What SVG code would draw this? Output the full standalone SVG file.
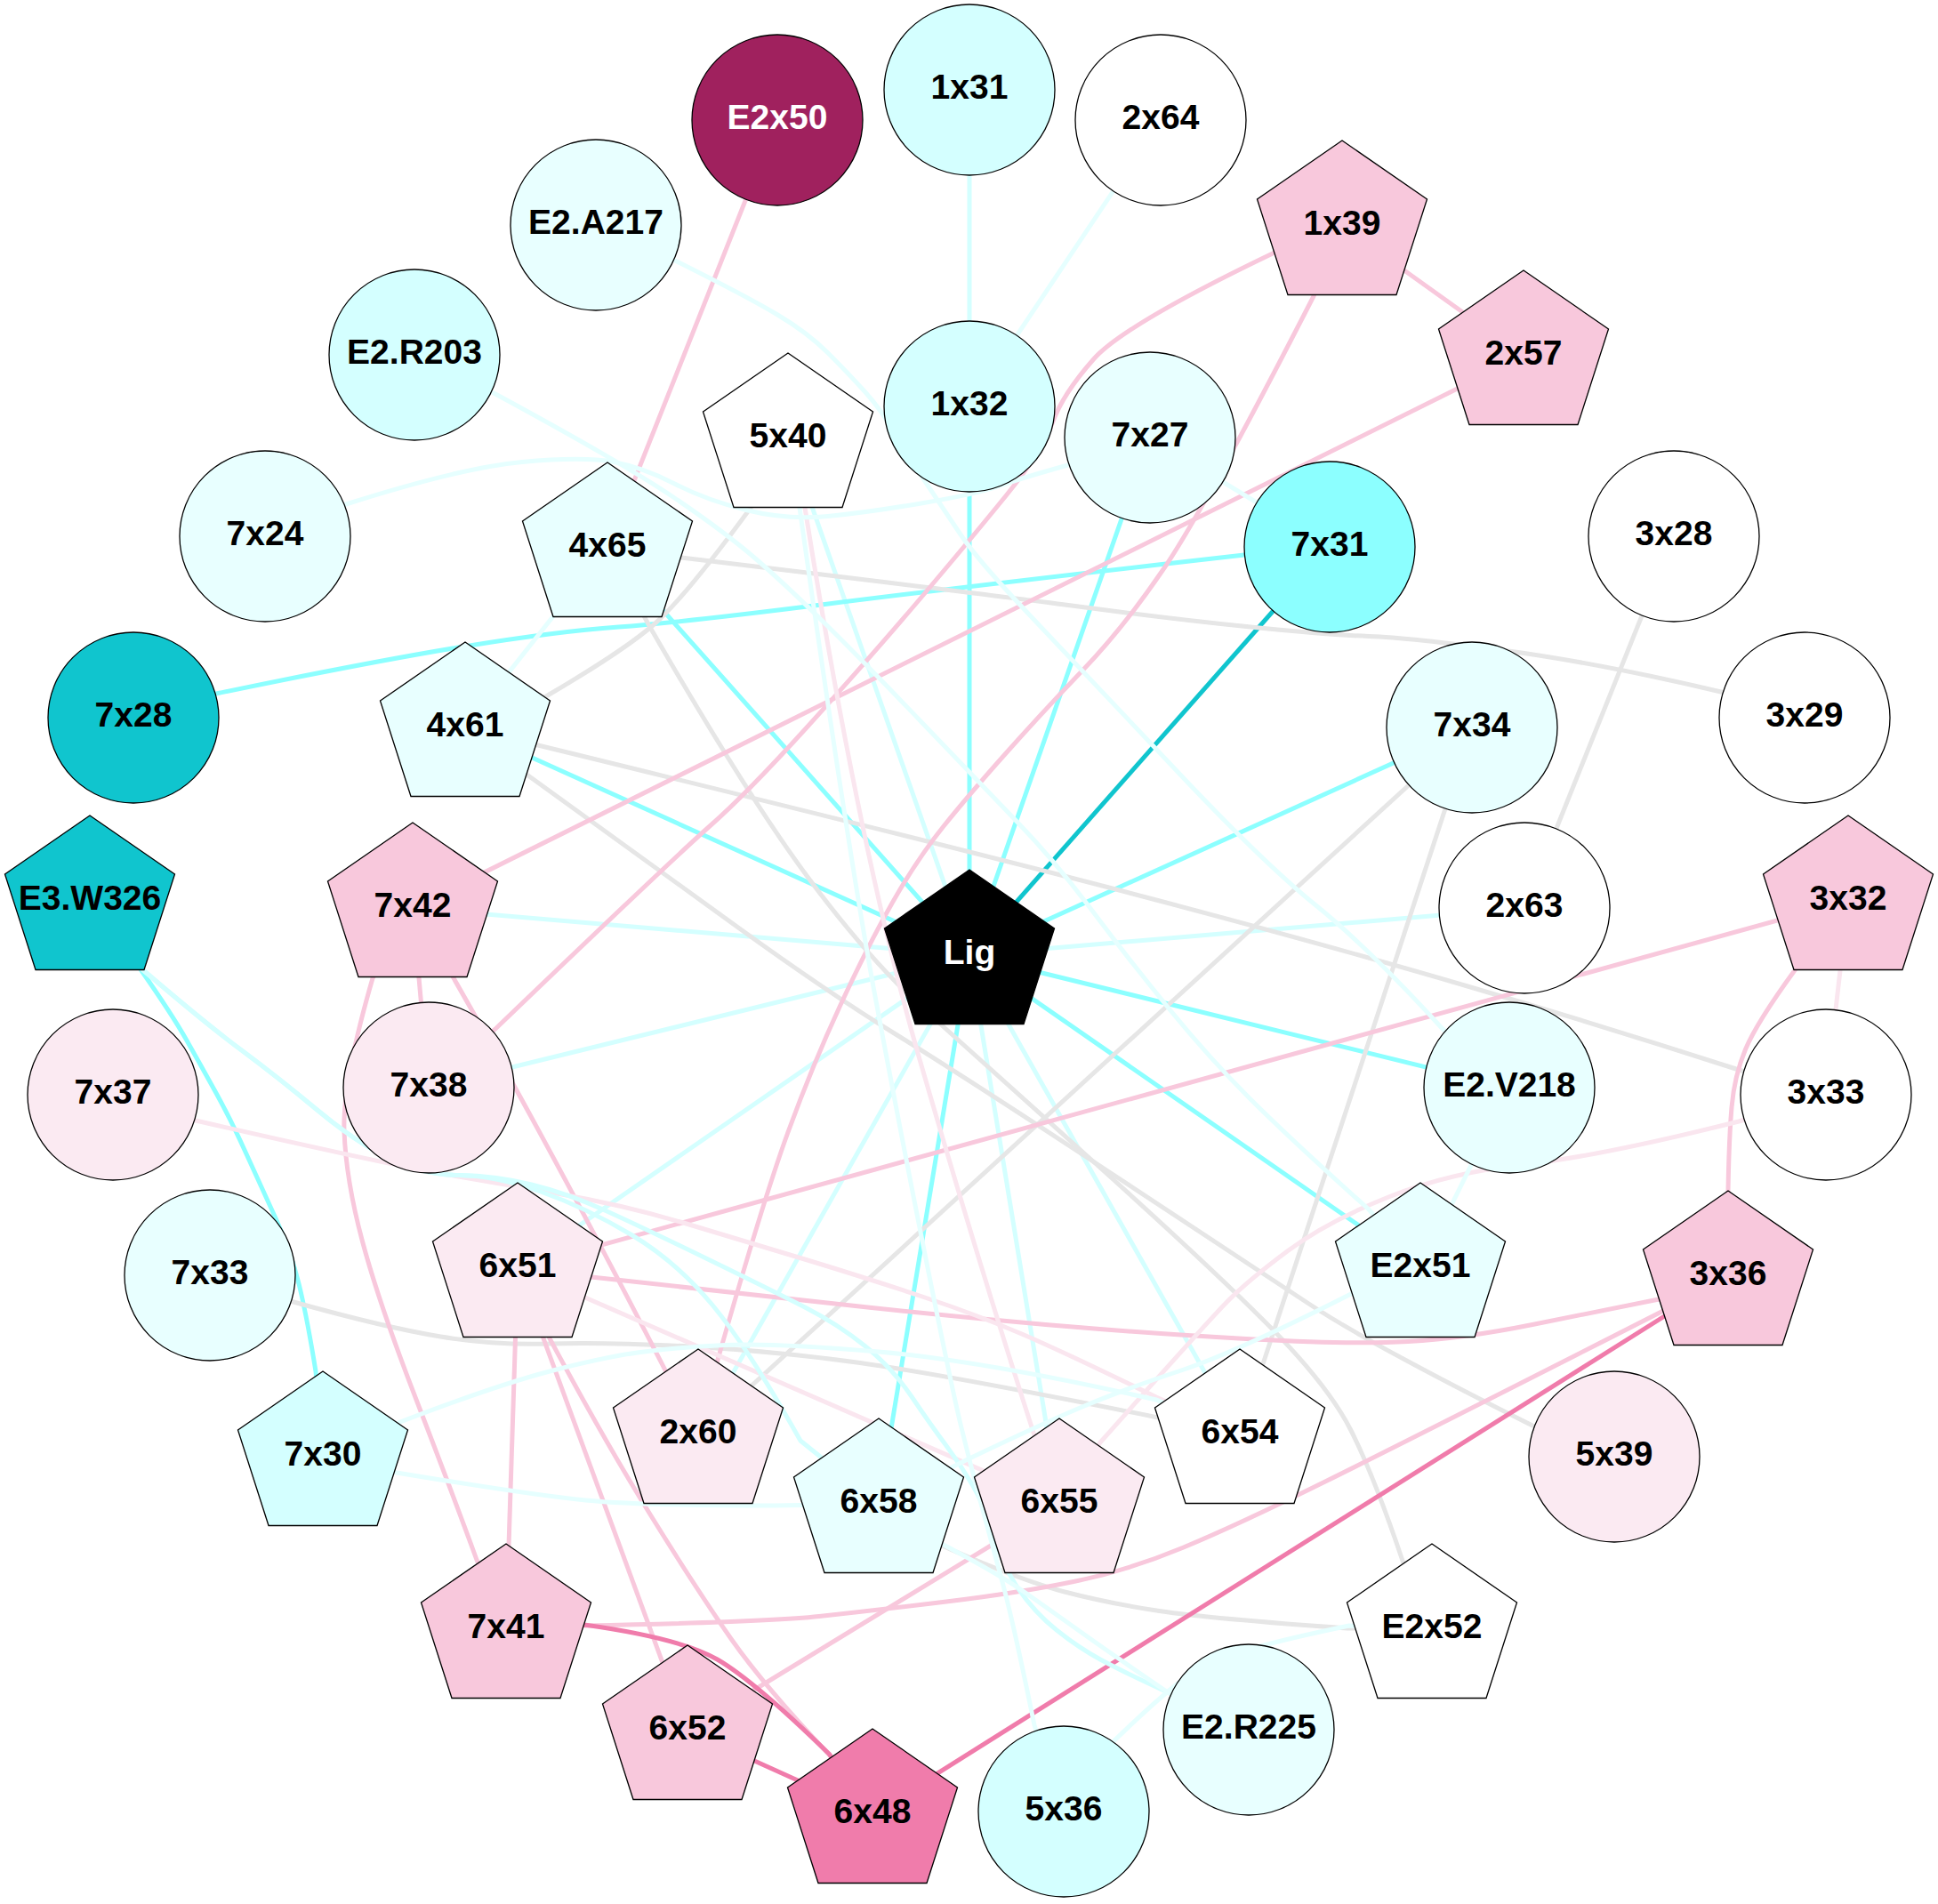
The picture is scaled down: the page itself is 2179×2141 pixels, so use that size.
<svg xmlns="http://www.w3.org/2000/svg" width="2179" height="2141" viewBox="0 0 2179 2141">
<style>
.e{fill:none;stroke-width:5;stroke-linecap:butt}
.cy{stroke:#8CFFFF}.dc{stroke:#10C5CE}.lc{stroke:#D4FFFF}.vc{stroke:#E6FFFF}
.pk{stroke:#F8C8DC}.lp{stroke:#FAE6EF}.hp{stroke:#F07CAB}.gr{stroke:#E6E6E6}
.node circle,.node use{stroke:#000;stroke-width:1.3}
.w{fill:#FFFFFF}.c1{fill:#E8FFFF}.c2{fill:#D4FFFF}.c3{fill:#8CFFFF}.c4{fill:#10C5CE}
.p1{fill:#FBEAF2}.p2{fill:#F8C8DC}.p3{fill:#F07CAB}.m{fill:#A0215E}.k{fill:#000000}
text{font-family:"Liberation Sans",Arial,sans-serif;font-weight:bold;font-size:39px;text-anchor:middle;fill:#000}
text.wt{fill:#FFFFFF}
</style>
<defs>
<polygon id="pent" points="0,-96 95.5,-30 61,77.5 -61,77.5 -95.5,-30"/>
</defs>
<rect x="0" y="0" width="2179" height="2141" fill="#FFFFFF"/>
<g id="edges">
<line class="e cy" x1="1090" y1="1074" x2="1090" y2="457"/>
<line class="e cy" x1="1090" y1="1074" x2="1293" y2="492"/>
<line class="e cy" x1="1090" y1="1074" x2="683" y2="616"/>
<line class="e cy" x1="1090" y1="1074" x2="523" y2="818"/>
<line class="e cy" x1="1090" y1="1074" x2="1655" y2="818"/>
<line class="e cy" x1="1090" y1="1074" x2="1697" y2="1223"/>
<line class="e cy" x1="1090" y1="1074" x2="1597" y2="1426"/>
<line class="e cy" x1="1090" y1="1074" x2="988" y2="1691"/>
<line class="e dc" x1="1090" y1="1074" x2="1495" y2="615"/>
<line class="e lc" x1="1090" y1="1074" x2="1714" y2="1021"/>
<line class="e lc" x1="1090" y1="1074" x2="464" y2="1021"/>
<line class="e lc" x1="1090" y1="1074" x2="482" y2="1223"/>
<line class="e lc" x1="1090" y1="1074" x2="582" y2="1426"/>
<line class="e lc" x1="1090" y1="1074" x2="785" y2="1613"/>
<line class="e lc" x1="1090" y1="1074" x2="1394" y2="1613"/>
<line class="e lc" x1="1090" y1="1074" x2="1191" y2="1691"/>
<line class="e lc" x1="1090" y1="1074" x2="886" y2="493"/>
<line class="e lc" x1="1090" y1="101" x2="1090" y2="457"/>
<path class="e cy" d="M150,807 L243,780 Q417,744 521.5,727 Q626,710 695.5,705 Q765,700 927.5,679.5 Q1090,659 1399,624 L1495,615"/>
<path class="e cy" d="M101,1013 L158,1090 Q193,1140 210,1170 Q227,1200 243.5,1230 Q260,1260 276.5,1296.5 Q293,1333 310,1370 Q327,1407 336,1443.5 Q345,1480 355,1542 L363,1638"/>
<line class="e gr" x1="1882" y1="603" x2="1714" y2="1021"/>
<line class="e gr" x1="1655" y1="818" x2="785" y2="1613"/>
<line class="e gr" x1="1655" y1="818" x2="1394" y2="1613"/>
<path class="e gr" d="M683,616 L766,627 Q1100,667 1205,681 Q1310,695 1401.5,704.5 Q1493,714 1539,715.5 Q1585,717 1692.5,731.5 Q1800,746 1935,778 L2029,807"/>
<path class="e gr" d="M523,818 L605,838 Q1100,959 1300,1012 Q1500,1065 1650,1109 Q1800,1153 1955,1203 L2053,1231"/>
<path class="e gr" d="M523,818 L614,783 Q701,732 735.5,702 Q770,672 844,571 L886,493"/>
<path class="e gr" d="M523,818 L591,870 Q729,970 830,1043 Q931,1116 1005.5,1162 Q1080,1208 1240.5,1313.5 Q1401,1419 1470,1465 Q1539,1511 1723,1603 L1815,1638"/>
<path class="e gr" d="M683,616 L729,702 Q839,893 908,986 Q977,1079 1038.5,1134.5 Q1100,1190 1227.5,1304.5 Q1355,1419 1424,1488 Q1493,1557 1519,1608.5 Q1545,1660 1577,1755 L1610,1832"/>
<path class="e gr" d="M236,1434 L330,1464 Q434,1493 495.5,1503 Q557,1513 618,1511 Q679,1509 774.5,1514 Q870,1519 967,1532.5 Q1064,1546 1297,1593 L1394,1613"/>
<path class="e gr" d="M988,1691 L1057,1737 Q1147,1777 1197,1790 Q1247,1803 1303.5,1811.5 Q1360,1820 1515,1831 L1610,1832"/>
<line class="e pk" x1="874" y1="135" x2="683" y2="616"/>
<line class="e pk" x1="1509" y1="254" x2="1713" y2="400"/>
<line class="e pk" x1="1713" y1="400" x2="464" y2="1021"/>
<line class="e pk" x1="464" y1="1021" x2="482" y2="1223"/>
<line class="e pk" x1="582" y1="1426" x2="569" y2="1832"/>
<line class="e pk" x1="582" y1="1426" x2="773" y2="1946"/>
<line class="e pk" x1="1191" y1="1691" x2="773" y2="1946"/>
<line class="e pk" x1="2078" y1="1013" x2="582" y2="1426"/>
<path class="e pk" d="M464,1021 Q600,1250 785,1613"/>
<path class="e pk" d="M1509,254 L1477,333 Q1355,571 1309.5,638 Q1264,705 1218,753 Q1172,801 1131,847 Q1090,893 1061,929 Q1032,965 1004.5,1013 Q977,1061 945,1130 Q913,1199 885.5,1274.5 Q858,1350 807,1529 L785,1613"/>
<path class="e pk" d="M1509,254 L1433,284 Q1264,365 1229.5,404 Q1195,443 1183.5,475 Q1172,507 1131,557.5 Q1090,608 1033.5,674.5 Q977,741 908,817 Q839,893 798,929 Q757,965 557,1157 L482,1223"/>
<path class="e pk" d="M464,1021 L419,1100 Q385,1217 387,1272 Q389,1327 407.5,1396 Q426,1465 467.5,1572.5 Q509,1680 536,1754 L569,1832"/>
<path class="e pk" d="M582,1426 L618,1505 Q679,1619 732,1704.5 Q785,1790 822.5,1843.5 Q860,1897 934,1975 L981,2040"/>
<path class="e pk" d="M1943,1435 L1872,1473 Q1591,1616 1491,1665.5 Q1391,1715 1329.5,1740.5 Q1268,1766 1207,1778.5 Q1146,1791 1064,1801 Q982,1811 921,1817.5 Q860,1824 657,1828 L569,1832"/>
<path class="e pk" d="M1943,1435 L1870,1460 Q1800,1474 1723,1489.5 Q1646,1505 1583,1508.5 Q1520,1512 1410,1506 Q1300,1500 1200,1491.5 Q1100,1483 980,1470.5 Q860,1458 665,1436 L582,1426"/>
<path class="e pk" d="M2078,1013 L2018,1091 Q1975,1150 1962.5,1180 Q1950,1210 1947,1245 Q1944,1280 1943,1339 L1943,1435"/>
<line class="e lp" x1="2078" y1="1013" x2="2053" y2="1231"/>
<line class="e lp" x1="582" y1="1426" x2="1191" y2="1691"/>
<path class="e lp" d="M127,1231 L220,1260 Q434,1309 495.5,1319.5 Q557,1330 629,1342.5 Q701,1355 770,1375.5 Q839,1396 908,1417 Q977,1438 1038.5,1458.5 Q1100,1479 1150,1500.5 Q1200,1522 1300,1571 L1394,1613"/>
<path class="e lp" d="M2053,1231 L1955,1261 Q1800,1300 1716,1309 Q1632,1318 1562.5,1345.5 Q1493,1373 1448,1406.5 Q1403,1440 1379.5,1464 Q1356,1488 1237,1622 L1191,1691"/>
<path class="e lp" d="M886,493 L905,571 Q967,960 1033.5,1189.5 Q1100,1419 1162,1611 L1191,1691"/>
<line class="e hp" x1="773" y1="1946" x2="981" y2="2040"/>
<line class="e hp" x1="1943" y1="1435" x2="981" y2="2040"/>
<path class="e hp" d="M569,1832 L657,1827 Q765,1842 806.5,1866 Q848,1890 932,1972 L981,2040"/>
<line class="e vc" x1="1305" y1="135" x2="1090" y2="457"/>
<line class="e vc" x1="1293" y1="492" x2="1495" y2="615"/>
<line class="e vc" x1="523" y1="818" x2="683" y2="616"/>
<line class="e vc" x1="1697" y1="1223" x2="1597" y2="1426"/>
<path class="e lc" d="M101,1013 L160,1090 Q230,1150 271,1180.5 Q312,1211 356.5,1248 Q401,1285 438,1303 Q475,1321 516,1321.5 Q557,1322 608,1340 Q659,1358 710,1388.5 Q761,1419 801.5,1468 Q842,1517 900,1620 L988,1691"/>
<path class="e lc" d="M101,1013 L160,1090 Q230,1150 271,1180.5 Q312,1211 356.5,1248 Q401,1285 438,1303 Q475,1321 516,1321.5 Q557,1322 597.5,1332 Q638,1342 679,1360.5 Q720,1379 795,1415.5 Q870,1452 906,1470.5 Q942,1489 972.5,1513.5 Q1003,1538 1025,1570.5 Q1047,1603 1063.5,1625 Q1080,1647 1093.5,1670 Q1107,1693 1117,1726.5 Q1127,1760 1145,1786.5 Q1163,1813 1188,1833 Q1213,1853 1238,1866.5 Q1263,1880 1313,1903 L1404,1945"/>
<path class="e vc" d="M988,1691 L1057,1735 Q1123,1770 1151.5,1790 Q1180,1810 1215,1835 Q1250,1860 1313,1903 L1404,1945"/>
<path class="e vc" d="M363,1638 L450,1599 Q557,1558 618,1542 Q679,1526 720,1520.5 Q761,1515 815.5,1512.5 Q870,1510 987.5,1520 Q1105,1530 1300,1574 L1394,1613"/>
<path class="e vc" d="M363,1638 L446,1656 Q597,1681 658.5,1687 Q720,1693 870,1693 L988,1691"/>
<path class="e vc" d="M1597,1426 L1521,1454 Q1391,1520 1329.5,1540.5 Q1268,1561 1224,1579 Q1180,1597 1090,1640 L988,1691"/>
<path class="e vc" d="M886,493 L899,571 Q954,960 984,1120.5 Q1014,1281 1042,1420.5 Q1070,1560 1080,1601.5 Q1090,1643 1101.5,1685 Q1113,1727 1126.5,1777 Q1140,1827 1163,1940 L1196,2037"/>
<path class="e vc" d="M1196,2037 L1250,1960 Q1320,1892 1351,1874 Q1382,1856 1517,1828 L1610,1832"/>
<path class="e vc" d="M670,253 L761,294 Q839,333 873.5,353.5 Q908,374 931,397 Q954,420 972.5,440.5 Q991,461 1007,488.5 Q1023,516 1041.5,543.5 Q1060,571 1080,601 Q1100,631 1159,693 Q1218,755 1319,862.5 Q1420,970 1479.5,1018 Q1539,1066 1622,1157 L1697,1223"/>
<path class="e vc" d="M466,399 L557,443 Q701,521 758.5,560 Q816,599 850.5,629 Q885,659 931,704.5 Q977,750 1038.5,814.5 Q1100,879 1143,923.5 Q1186,968 1228,1024 Q1270,1080 1315,1135 Q1360,1190 1405,1235 Q1450,1280 1539,1360 L1597,1426"/>
<path class="e vc" d="M298,603 L389,567 Q518,526 587,519.5 Q656,513 690,519.5 Q724,526 758.5,544 Q793,562 839,573.5 Q885,585 931,580.5 Q977,576 1038.5,565.5 Q1100,555 1122,547 Q1144,539 1197,524 L1293,492"/>
</g>
<g id="nodes">
<g id="node-E2x50" class="node"><circle class="m" cx="874" cy="135" r="96"/><text class="wt" x="874" y="145">E2x50</text></g>
<g id="node-1x31" class="node"><circle class="c2" cx="1090" cy="101" r="96"/><text x="1090" y="111">1x31</text></g>
<g id="node-2x64" class="node"><circle class="w" cx="1305" cy="135" r="96"/><text x="1305" y="145">2x64</text></g>
<g id="node-E2.A217" class="node"><circle class="c1" cx="670" cy="253" r="96"/><text x="670" y="263">E2.A217</text></g>
<g id="node-E2.R203" class="node"><circle class="c2" cx="466" cy="399" r="96"/><text x="466" y="409">E2.R203</text></g>
<g id="node-7x24" class="node"><circle class="c1" cx="298" cy="603" r="96"/><text x="298" y="613">7x24</text></g>
<g id="node-7x28" class="node"><circle class="c4" cx="150" cy="807" r="96"/><text x="150" y="817">7x28</text></g>
<g id="node-1x32" class="node"><circle class="c2" cx="1090" cy="457" r="96"/><text x="1090" y="467">1x32</text></g>
<g id="node-7x27" class="node"><circle class="c1" cx="1293" cy="492" r="96"/><text x="1293" y="502">7x27</text></g>
<g id="node-7x31" class="node"><circle class="c3" cx="1495" cy="615" r="96"/><text x="1495" y="625">7x31</text></g>
<g id="node-3x28" class="node"><circle class="w" cx="1882" cy="603" r="96"/><text x="1882" y="613">3x28</text></g>
<g id="node-3x29" class="node"><circle class="w" cx="2029" cy="807" r="96"/><text x="2029" y="817">3x29</text></g>
<g id="node-7x34" class="node"><circle class="c1" cx="1655" cy="818" r="96"/><text x="1655" y="828">7x34</text></g>
<g id="node-2x63" class="node"><circle class="w" cx="1714" cy="1021" r="96"/><text x="1714" y="1031">2x63</text></g>
<g id="node-7x37" class="node"><circle class="p1" cx="127" cy="1231" r="96"/><text x="127" y="1241">7x37</text></g>
<g id="node-7x38" class="node"><circle class="p1" cx="482" cy="1223" r="96"/><text x="482" y="1233">7x38</text></g>
<g id="node-7x33" class="node"><circle class="c1" cx="236" cy="1434" r="96"/><text x="236" y="1444">7x33</text></g>
<g id="node-E2.V218" class="node"><circle class="c1" cx="1697" cy="1223" r="96"/><text x="1697" y="1233">E2.V218</text></g>
<g id="node-3x33" class="node"><circle class="w" cx="2053" cy="1231" r="96"/><text x="2053" y="1241">3x33</text></g>
<g id="node-5x39" class="node"><circle class="p1" cx="1815" cy="1638" r="96"/><text x="1815" y="1648">5x39</text></g>
<g id="node-E2.R225" class="node"><circle class="c1" cx="1404" cy="1945" r="96"/><text x="1404" y="1955">E2.R225</text></g>
<g id="node-5x36" class="node"><circle class="c2" cx="1196" cy="2037" r="96"/><text x="1196" y="2047">5x36</text></g>
<g id="node-5x40" class="node"><use href="#pent" class="w" x="886" y="493"/><text x="886" y="503">5x40</text></g>
<g id="node-4x65" class="node"><use href="#pent" class="c1" x="683" y="616"/><text x="683" y="626">4x65</text></g>
<g id="node-4x61" class="node"><use href="#pent" class="c1" x="523" y="818"/><text x="523" y="828">4x61</text></g>
<g id="node-E3.W326" class="node"><use href="#pent" class="c4" x="101" y="1013"/><text x="101" y="1023">E3.W326</text></g>
<g id="node-7x42" class="node"><use href="#pent" class="p2" x="464" y="1021"/><text x="464" y="1031">7x42</text></g>
<g id="node-1x39" class="node"><use href="#pent" class="p2" x="1509" y="254"/><text x="1509" y="264">1x39</text></g>
<g id="node-2x57" class="node"><use href="#pent" class="p2" x="1713" y="400"/><text x="1713" y="410">2x57</text></g>
<g id="node-3x32" class="node"><use href="#pent" class="p2" x="2078" y="1013"/><text x="2078" y="1023">3x32</text></g>
<g id="node-6x51" class="node"><use href="#pent" class="p1" x="582" y="1426"/><text x="582" y="1436">6x51</text></g>
<g id="node-7x30" class="node"><use href="#pent" class="c2" x="363" y="1638"/><text x="363" y="1648">7x30</text></g>
<g id="node-2x60" class="node"><use href="#pent" class="p1" x="785" y="1613"/><text x="785" y="1623">2x60</text></g>
<g id="node-6x58" class="node"><use href="#pent" class="c1" x="988" y="1691"/><text x="988" y="1701">6x58</text></g>
<g id="node-7x41" class="node"><use href="#pent" class="p2" x="569" y="1832"/><text x="569" y="1842">7x41</text></g>
<g id="node-6x52" class="node"><use href="#pent" class="p2" x="773" y="1946"/><text x="773" y="1956">6x52</text></g>
<g id="node-6x48" class="node"><use href="#pent" class="p3" x="981" y="2040"/><text x="981" y="2050">6x48</text></g>
<g id="node-E2x51" class="node"><use href="#pent" class="c1" x="1597" y="1426"/><text x="1597" y="1436">E2x51</text></g>
<g id="node-3x36" class="node"><use href="#pent" class="p2" x="1943" y="1435"/><text x="1943" y="1445">3x36</text></g>
<g id="node-6x54" class="node"><use href="#pent" class="w" x="1394" y="1613"/><text x="1394" y="1623">6x54</text></g>
<g id="node-6x55" class="node"><use href="#pent" class="p1" x="1191" y="1691"/><text x="1191" y="1701">6x55</text></g>
<g id="node-E2x52" class="node"><use href="#pent" class="w" x="1610" y="1832"/><text x="1610" y="1842">E2x52</text></g>
<g id="node-Lig" class="node"><use href="#pent" class="k" x="1090" y="1074"/><text class="wt" x="1090" y="1084">Lig</text></g>
</g>
</svg>
